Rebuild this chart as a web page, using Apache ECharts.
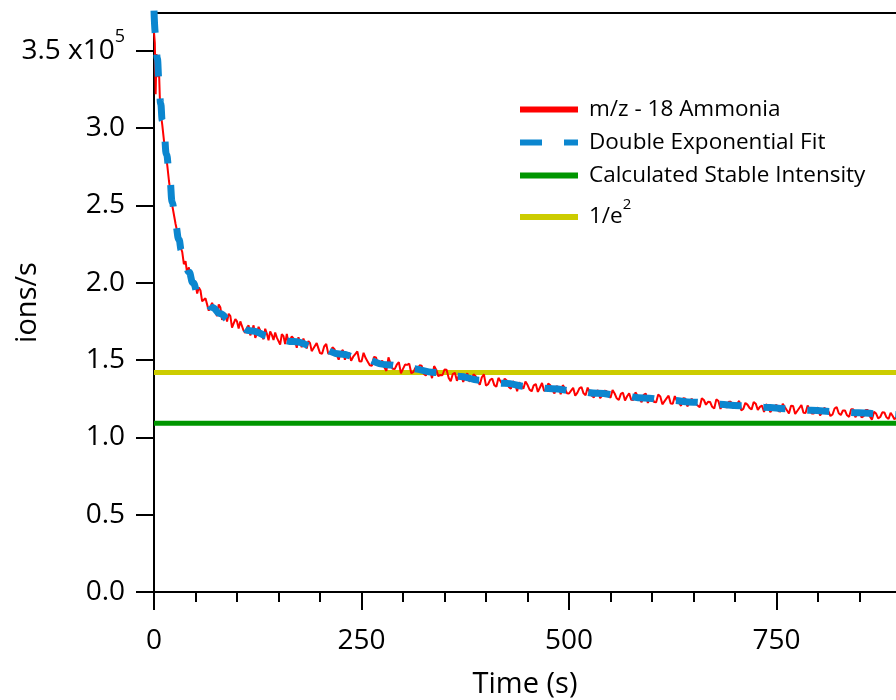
<!DOCTYPE html>
<html>
<head>
<meta charset="utf-8">
<script src="https://cdn.jsdelivr.net/npm/echarts@6/dist/echarts.min.js"></script>
<style>html,body{margin:0;padding:0;background:#fff}#chart{width:896px;height:700px}</style>
</head>
<body>
<div id="chart"></div>
<script>
// values in units of 1e5 ions/s
var redTimeA = [0,1,2,3,4,5,6,7,8,9,10,12,14,16,18,20,22,24,26,28,30,32,34,36,38,40,42,44,46,48,50,52,54,
56,60,64,68,72,76,80,84,88,92,96,100,104,108,112,116,120,124,128,132,136,140,144,148,152,156,160,164,168,172,176,180,184,188,192,196,200,
205,210,215,220,225,230,235,240,245,250,255,260,265,270,275,280,285,290,295,300,305,310,315,320,325,330,335,340,345,350,355,360,365,370,375,380,385,390,395,400,
405,410,415,420,425,430,435,440,445,450,455,460,465,470,475,480,485,490,495,500,505,510,515,520,525,530,535,540,545,550,555,560,565,570,575,580,585,590,595,600,
605,610,615,620,625,630,635,640,645,650,655,660,665,670,675,680,685,690,695,700,705,710,715,720,725,730,735,740,745,750,755,760,765,770,775,780,785,790,795,800,
805,810,815,820,825,830,835,840,845,850,855,860,865,870,875,880,885,890,894];
var redValuesA = [3.62,3.55,3.22,3.48,3.40,3.33,3.38,3.20,3.12,3.06,3.02,2.92,2.84,2.76,2.66,2.58,2.50,2.44,2.38,2.33,2.28,2.23,2.20,2.12,2.14,2.06,2.10,2.02,2.01,1.96,1.99,1.93,1.97,
1.95,1.88,1.90,1.83,1.84,1.785,1.84,1.785,1.75,1.785,1.71,1.75,1.75,1.69,1.71,1.66,1.725,1.67,1.69,1.635,1.67,1.685,1.63,1.645,1.60,1.655,1.67,1.615,1.64,1.58,1.615,1.64,1.575,1.61,1.575,1.61,1.545,
1.588,1.540,1.583,1.536,1.549,1.502,1.547,1.522,1.556,1.490,1.513,1.467,1.520,1.473,1.497,1.430,1.476,1.442,1.487,1.443,1.469,1.415,1.451,1.466,1.412,1.427,1.383,1.438,1.404,1.439,1.385,1.410,1.366,1.411,1.387,1.362,1.408,1.363,1.389,1.335,
1.372,1.338,1.385,1.341,1.368,1.314,1.351,1.357,1.314,1.340,1.298,1.345,1.323,1.300,1.348,1.305,1.332,1.279,1.317,1.284,1.321,1.288,1.326,1.273,1.290,1.258,1.305,1.272,1.300,1.257,1.284,1.242,1.289,1.266,1.243,1.291,1.248,1.275,1.223,1.260,
1.228,1.265,1.233,1.270,1.218,1.236,1.204,1.252,1.220,1.238,1.206,1.253,1.211,1.229,1.187,1.235,1.213,1.191,1.230,1.198,1.236,1.184,1.212,1.180,1.218,1.197,1.165,1.203,1.182,1.210,1.168,1.196,1.155,1.203,1.171,1.209,1.158,1.176,1.154,1.193,
1.161,1.180,1.138,1.187,1.156,1.174,1.143,1.182,1.131,1.170,1.138,1.177,1.115,1.154,1.132,1.161,1.119,1.138,1.130];

var redTimeB = [58,62,66,70,74,78,82,86,90,94,98,102,106,110,114,118,122,126,130,134,138,142,146,150,154,158,162,166,170,174,178,182,186,190,194,198,
202.5,207.5,212.5,217.5,222.5,227.5,232.5,237.5,242.5,247.5,252.5,257.5,262.5,267.5,272.5,277.5,282.5,287.5,292.5,297.5,
302.5,307.5,312.5,317.5,322.5,327.5,332.5,337.5,342.5,347.5,352.5,357.5,362.5,367.5,372.5,377.5,382.5,387.5,392.5,397.5,
402.5,407.5,412.5,417.5,422.5,427.5,432.5,437.5,442.5,447.5,452.5,457.5,462.5,467.5,472.5,477.5,482.5,487.5,492.5,497.5,
502.5,507.5,512.5,517.5,522.5,527.5,532.5,537.5,542.5,547.5,552.5,557.5,562.5,567.5,572.5,577.5,582.5,587.5,592.5,597.5,
602.5,607.5,612.5,617.5,622.5,627.5,632.5,637.5,642.5,647.5,652.5,657.5,662.5,667.5,672.5,677.5,682.5,687.5,692.5,697.5,
702.5,707.5,712.5,717.5,722.5,727.5,732.5,737.5,742.5,747.5,752.5,757.5,762.5,767.5,772.5,777.5,782.5,787.5,792.5,797.5,
802.5,807.5,812.5,817.5,822.5,827.5,832.5,837.5,842.5,847.5,852.5,857.5,862.5,867.5,872.5,877.5,882.5,887.5,892];
var redValuesB = [1.88,1.90,1.82,1.87,1.81,1.86,1.76,1.80,1.80,1.71,1.765,1.705,1.755,1.675,1.725,1.688,1.643,1.715,1.658,1.703,1.628,1.663,1.678,1.623,1.668,1.603,1.608,1.653,1.625,1.648,1.583,1.608,1.623,1.558,1.593,1.598,
1.541,1.604,1.547,1.570,1.503,1.566,1.540,1.495,1.539,1.493,1.547,1.490,1.464,1.517,1.480,1.454,1.518,1.444,1.470,1.415,
1.471,1.477,1.423,1.439,1.464,1.400,1.435,1.461,1.396,1.402,1.437,1.363,1.418,1.404,1.359,1.415,1.370,1.396,1.341,1.407,
1.344,1.380,1.327,1.363,1.380,1.326,1.363,1.299,1.336,1.362,1.309,1.337,1.294,1.352,1.309,1.337,1.284,1.321,1.338,1.286,
1.303,1.270,1.317,1.285,1.322,1.269,1.297,1.254,1.301,1.269,1.306,1.253,1.281,1.238,1.285,1.242,1.270,1.227,1.284,1.252,
1.229,1.277,1.214,1.252,1.219,1.267,1.225,1.253,1.201,1.249,1.217,1.195,1.242,1.230,1.198,1.246,1.184,1.222,1.231,1.189,
1.217,1.175,1.223,1.191,1.229,1.178,1.206,1.214,1.163,1.201,1.169,1.217,1.176,1.204,1.152,1.190,1.159,1.207,1.155,1.184,
1.142,1.191,1.169,1.148,1.197,1.145,1.174,1.133,1.182,1.151,1.129,1.178,1.136,1.165,1.123,1.162,1.130,1.159,1.117];

var fitTime = [0,2,4,6,8,10,12,15,19,22,26,30,33,37,42,47,53,60,70,80,90,100,116,140,168,200,224,250,280,310,338,366,394,422,450,480,507,535,563,590,621,650,678,706,735,764,792,820,849,875,900];
var fitValues = [3.76,3.60,3.45,3.31,3.16,3.05,2.97,2.83,2.67,2.52,2.37,2.28,2.21,2.14,2.07,2.00,1.93,1.89,1.84,1.80,1.76,1.73,1.69,1.655,1.62,1.575,1.54,1.51,1.47,1.445,1.42,1.395,1.37,1.35,1.33,1.315,1.30,1.285,1.27,1.255,1.24,1.228,1.215,1.205,1.195,1.185,1.175,1.167,1.16,1.152,1.145];

var stableIntensity = 1.092;
var oneOverE2 = 1.419;
var xLineEnds = [0, 1000];

var yTicks = [0,0.5,1.0,1.5,2.0,2.5,3.0,3.5];
var xTickLabels = ['0','250','500','750','1000'];

var seriesNames = ['m/z - 18 Ammonia','Double Exponential Fit','Calculated Stable Intensity','1/e2'];

function pairs(xs, ys){ var out=[]; for(var i=0;i<xs.length;i++) out.push([xs[i], ys[i]]); return out; }
var redData = pairs(redTimeA, redValuesA).concat(pairs(redTimeB, redValuesB)).sort(function(a,b){return a[0]-b[0];});

var FONT = 'Open Sans';
var chart = echarts.init(document.getElementById('chart'), null, {renderer:'canvas'});
chart.setOption({
  animation:false,
  backgroundColor:'#fff',
  grid:{left:154, top:13, bottom:108, right:-88, containLabel:false, outerBoundsMode:'none'},
  legend:{
    left:517, top:98, orient:'vertical', padding:0, itemGap:10,
    itemWidth:58, itemHeight:14,
    data:seriesNames,
    lineStyle:{width:6},
    itemStyle:{opacity:0},
    textStyle:{fontFamily:FONT, fontSize:22.5, color:'#000', lineHeight:20, padding:[0,0,0,6],
      rich:{m:{fontFamily:FONT, fontSize:22.5, color:'#000', lineHeight:40},
            s:{fontFamily:FONT, fontSize:15, color:'#000', lineHeight:15, verticalAlign:'top'}}},
    formatter:function(n){ return n==='1/e2' ? '{m|1/e}{s|2}' : n; }
  },
  xAxis:[{
    type:'value', min:0, max:1000, interval:250, position:'bottom',
    name:'Time (s)', nameLocation:'middle', nameGap:78,
    nameTextStyle:{fontFamily:FONT, fontSize:29, color:'#000', padding:[0,88,0,0]},
    axisLine:{show:true, onZero:false, lineStyle:{color:'#000', width:2}},
    axisTick:{show:true, length:18, lineStyle:{color:'#000', width:2}},
    minorTick:{show:true, splitNumber:5, length:10, lineStyle:{color:'#000', width:2}},
    splitLine:{show:false},
    axisLabel:{margin:35, fontFamily:FONT, fontSize:28, color:'#000',
      formatter:function(v){ return xTickLabels[Math.round(v/250)] || ''; }}
  },{
    type:'value', min:0, max:1000, position:'top',
    axisLine:{show:true, onZero:false, lineStyle:{color:'#000', width:2}},
    axisTick:{show:false}, axisLabel:{show:false}, splitLine:{show:false}
  }],
  yAxis:{
    type:'value', min:0, max:3.745, interval:0.5,
    name:'ions/s', nameLocation:'middle', nameGap:112, nameRotate:90, nameMoveOverlap:false,
    nameTextStyle:{fontFamily:FONT, fontSize:29, color:'#000'},
    axisLine:{show:true, onZero:false, lineStyle:{color:'#000', width:2}},
    axisTick:{show:true, length:18, customValues:yTicks, lineStyle:{color:'#000', width:2}},
    splitLine:{show:false},
    axisLabel:{margin:29, customValues:yTicks, fontFamily:FONT, fontSize:28, color:'#000',
      formatter:function(v){ return Math.abs(v-3.5)<1e-9 ? '{a|3.5 x10}{s|5}' : '{a|'+v.toFixed(1)+'}'; },
      rich:{a:{fontFamily:FONT, fontSize:28, color:'#000', lineHeight:46},
            s:{fontFamily:FONT, fontSize:18, color:'#000', lineHeight:18, verticalAlign:'top'}}}
  },
  series:[
    {name:seriesNames[0], type:'line', data:redData, symbol:'none', z:3,
     lineStyle:{color:'#ff0000', width:2}, itemStyle:{color:'#ff0000'}},
    {name:seriesNames[1], type:'line', data:pairs(fitTime, fitValues), symbol:'none', z:4,
     smooth:true, smoothMonotone:'x',
     lineStyle:{color:'#0b86cf', width:7, type:[22,22]}, itemStyle:{color:'#0b86cf'}},
    {name:seriesNames[2], type:'line', data:pairs(xLineEnds,[stableIntensity,stableIntensity]), symbol:'none', z:2,
     lineStyle:{color:'#009600', width:5}, itemStyle:{color:'#009600'}},
    {name:seriesNames[3], type:'line', data:pairs(xLineEnds,[oneOverE2,oneOverE2]), symbol:'none', z:2,
     lineStyle:{color:'#cccc00', width:5}, itemStyle:{color:'#cccc00'}}
  ]
});
</script>
</body>
</html>
